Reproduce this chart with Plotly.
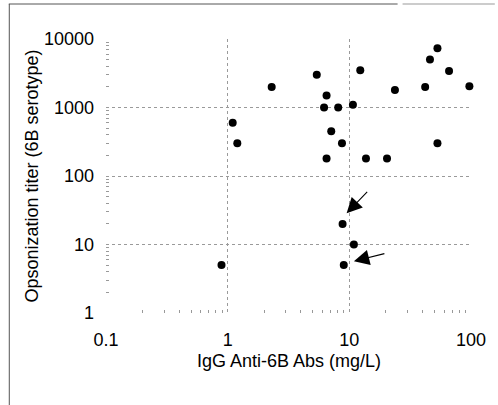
import math
import plotly.graph_objects as go

# Data
igg_mg_per_l = [2.3, 5.4, 6.5, 6.2, 8.1, 10.7, 12.3, 23.7, 42, 46, 53, 66, 97,
                53, 1.1, 1.2, 7.1, 8.7, 6.5, 13.7, 20.4, 8.8, 10.9, 9.0, 0.89]
opsonization_titer = [2000, 3000, 1500, 1000, 1000, 1100, 3500, 1800, 2000, 5000, 7300, 3400, 2050,
                      300, 600, 300, 450, 300, 180, 180, 180, 20, 10, 5, 5]

# Arrow tips (data coords) and tail offsets (px)
arrow_tip_x = [9.5, 10.9]
arrow_tip_y = [28.5, 5.7]
arrow_ax = [22, 32]
arrow_ay = [-23, -8]

x_ticks = [0.1, 1, 10, 100]
x_tick_text = ["0.1", "1", "10", "100"]
y_ticks = [1, 10, 100, 1000, 10000]
y_tick_text = ["1", "10", "100", "1000", "10000"]
x_minor = [m * d for d in (0.1, 1, 10) for m in range(2, 10)]
y_minor = [m * d for d in (1, 10, 100, 1000) for m in range(2, 10)]

W, H = 498, 405
L, R, T, B = 106, 24, 39, 92
pw, ph = W - L - R, H - T - B


def px_x(p):
    return (p - L) / pw


def px_y(p):
    return (H - B - p) / ph


fig = go.Figure()
fig.add_trace(go.Scatter(
    x=igg_mg_per_l, y=opsonization_titer, mode="markers",
    marker=dict(color="black", size=8, line=dict(width=0)),
    showlegend=False, cliponaxis=False, hoverinfo="skip",
))

for tx, ty, ax, ay in zip(arrow_tip_x, arrow_tip_y, arrow_ax, arrow_ay):
    # annotations on log axes take log10 positions
    fig.add_annotation(x=math.log10(tx), y=math.log10(ty), xref="x", yref="y",
                       showarrow=True, arrowhead=2, arrowsize=2.8, arrowwidth=1.1,
                       arrowcolor="black", ax=ax, ay=ay, text="")

font = dict(family="Liberation Sans, Arial, sans-serif", size=18, color="black")

fig.add_annotation(x=px_x(291), y=px_y(361), xref="paper", yref="paper",
                   text="IgG Anti-6B Abs (mg/L)", showarrow=False, font=font,
                   xanchor="center", yanchor="middle")
fig.add_annotation(x=px_x(31), y=px_y(176), xref="paper", yref="paper",
                   text="Opsonization titer (6B serotype)", showarrow=False, font=font,
                   textangle=-90, xanchor="center", yanchor="middle")

# Frame lines around figure
fig.add_shape(type="line", xref="paper", yref="paper",
              x0=px_x(8), x1=px_x(400), y0=px_y(4), y1=px_y(4),
              line=dict(color="#555555", width=1))
fig.add_shape(type="line", xref="paper", yref="paper",
              x0=px_x(405), x1=px_x(498), y0=px_y(4), y1=px_y(4),
              line=dict(color="#999999", width=1))
fig.add_shape(type="line", xref="paper", yref="paper",
              x0=px_x(8.5), x1=px_x(8.5), y0=px_y(4), y1=px_y(405),
              line=dict(color="#555555", width=1))

axis_common = dict(
    type="log", showline=False, zeroline=False,
    showgrid=True, gridcolor="#9a9a9a", gridwidth=1, griddash="dot",
    ticks="", tickfont=font,
)

fig.update_xaxes(range=[-1, 2], tickvals=x_ticks, ticktext=x_tick_text,
                 ticklabelstandoff=14,
                 minor=dict(tickvals=x_minor, ticks="inside", ticklen=3,
                            tickcolor="#999999", showgrid=False),
                 **axis_common)
fig.update_yaxes(range=[0, 4], tickvals=y_ticks, ticktext=y_tick_text,
                 ticklabelstandoff=11,
                 minor=dict(tickvals=y_minor, ticks="inside", ticklen=3,
                            tickcolor="#999999", showgrid=False),
                 **axis_common)

fig.update_layout(
    width=W, height=H,
    margin=dict(l=L, r=R, t=T, b=B, pad=0),
    plot_bgcolor="white", paper_bgcolor="white",
    font=font, hovermode=False,
)

fig.write_html("out.html", config={"displayModeBar": False},
               post_script="document.body.style.margin='0';")
